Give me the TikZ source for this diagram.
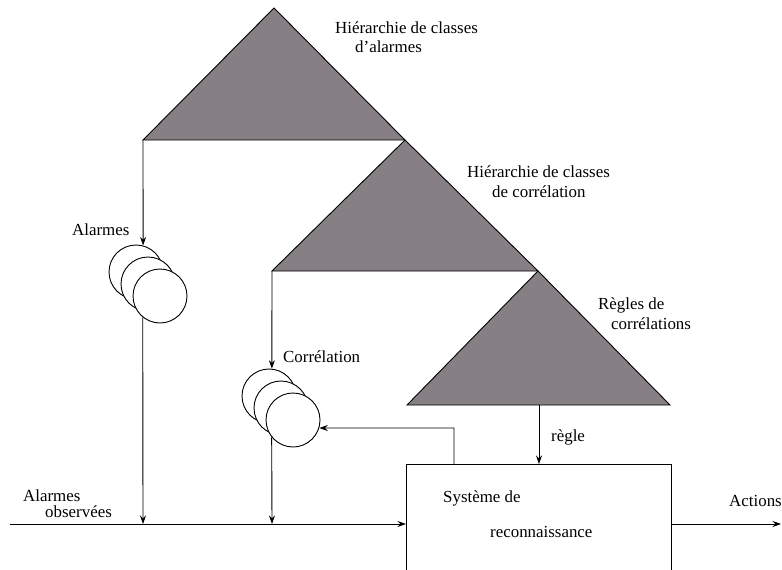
\documentclass[tikz,border=0pt]{standalone}
\usepackage{fontspec}
\setmainfont{Liberation Serif}
\usetikzlibrary{arrows.meta,calc}
\definecolor{trigray}{RGB}{134,128,132}
\tikzset{
  arr/.style={-{Stealth[length=8.5pt,width=6pt]}, line width=0.9pt},
  tri/.style={fill=trigray, draw=black, line width=0.9pt, line join=miter},
  disc/.style={circle, draw=black, fill=white, line width=0.9pt, minimum size=54pt, inner sep=0pt},
  lbl/.style={anchor=base west, inner sep=0pt, font=\fontsize{16.9}{20}\selectfont},
  sysbox/.style={draw=black, line width=0.9pt, minimum width=265pt, minimum height=130pt, anchor=north west, inner sep=0pt}
}
\begin{document}
\begin{tikzpicture}[x=1pt,y=-1pt]
\useasboundingbox (0,0) rectangle (782,570);
% triangle coordinates
\coordinate (T1A) at (274,8);
\coordinate (T1L) at (143,140);
\coordinate (T1R) at (405,140);
\coordinate (T2L) at (272,271);
\coordinate (T2R) at (538,271);
\coordinate (T3L) at (407,405);
\coordinate (T3R) at (670,405);
\coordinate (T3B) at (539,405);
% triangles
\draw[tri] (T1A) -- (T1R) -- (T1L) -- cycle;
\draw[tri] (T1R) -- (T2R) -- (T2L) -- cycle;
\draw[tri] (T2R) -- (T3R) -- (T3L) -- cycle;
% circles
\node[disc] (a1) at (136,272) {};
\node[disc] (a2) at (148,284) {};
\node[disc] (a3) at (160,296) {};
\node[disc] (b1) at (269,396) {};
\node[disc] (b2) at (281,408) {};
\node[disc] (b3) at (293,420) {};
% system box
\node[sysbox] (sys) at (406,464) {};
% coordinates on the main line
\coordinate (in0) at (10,524);
\coordinate (J1) at (143,524);
\coordinate (J2) at (272,524);
\coordinate (out) at (781,524);
\coordinate (fb) at (454,428);
% connectors
\draw[arr] (T1L) -- (a1.75);
\draw[arr] (a3.-129) -- (J1);
\draw[arr] (T2L) -- (b1.84);
\draw[arr] (b3.-141) -- (J2);
\draw[arr] (in0) -- (sys.west |- in0);
\draw[arr] (sys.east |- in0) -- (out);
\draw[arr] (T3B) -- (T3B |- sys.north);
\draw[arr] (fb |- sys.north) -- (fb) -- (b3.-17);
% labels
\node[lbl] (h1a) at (335,33) {Hiérarchie de classes};
\node[lbl] (h1b) at (355,52) {d’alarmes};
\node[lbl] (h2a) at (467,177) {Hiérarchie de classes};
\node[lbl] (h2b) at (492,197) {de corrélation};
\node[lbl] (r3a) at (598,309) {Règles de};
\node[lbl] (r3b) at (611,329) {corrélations};
\node[lbl] (lal) at (72,235) {Alarmes};
\node[lbl] (lco) at (283,362) {Corrélation};
\node[lbl] (lre) at (551,441) {règle};
\node[lbl] (sy1) at (443,502) {Système de};
\node[lbl] (sy2) at (490,537) {reconnaissance};
\node[lbl] (ob1) at (23,501) {Alarmes};
\node[lbl] (ob2) at (45,517) {observées};
\node[lbl] (act) at (729,506) {Actions};
\end{tikzpicture}
\end{document}
